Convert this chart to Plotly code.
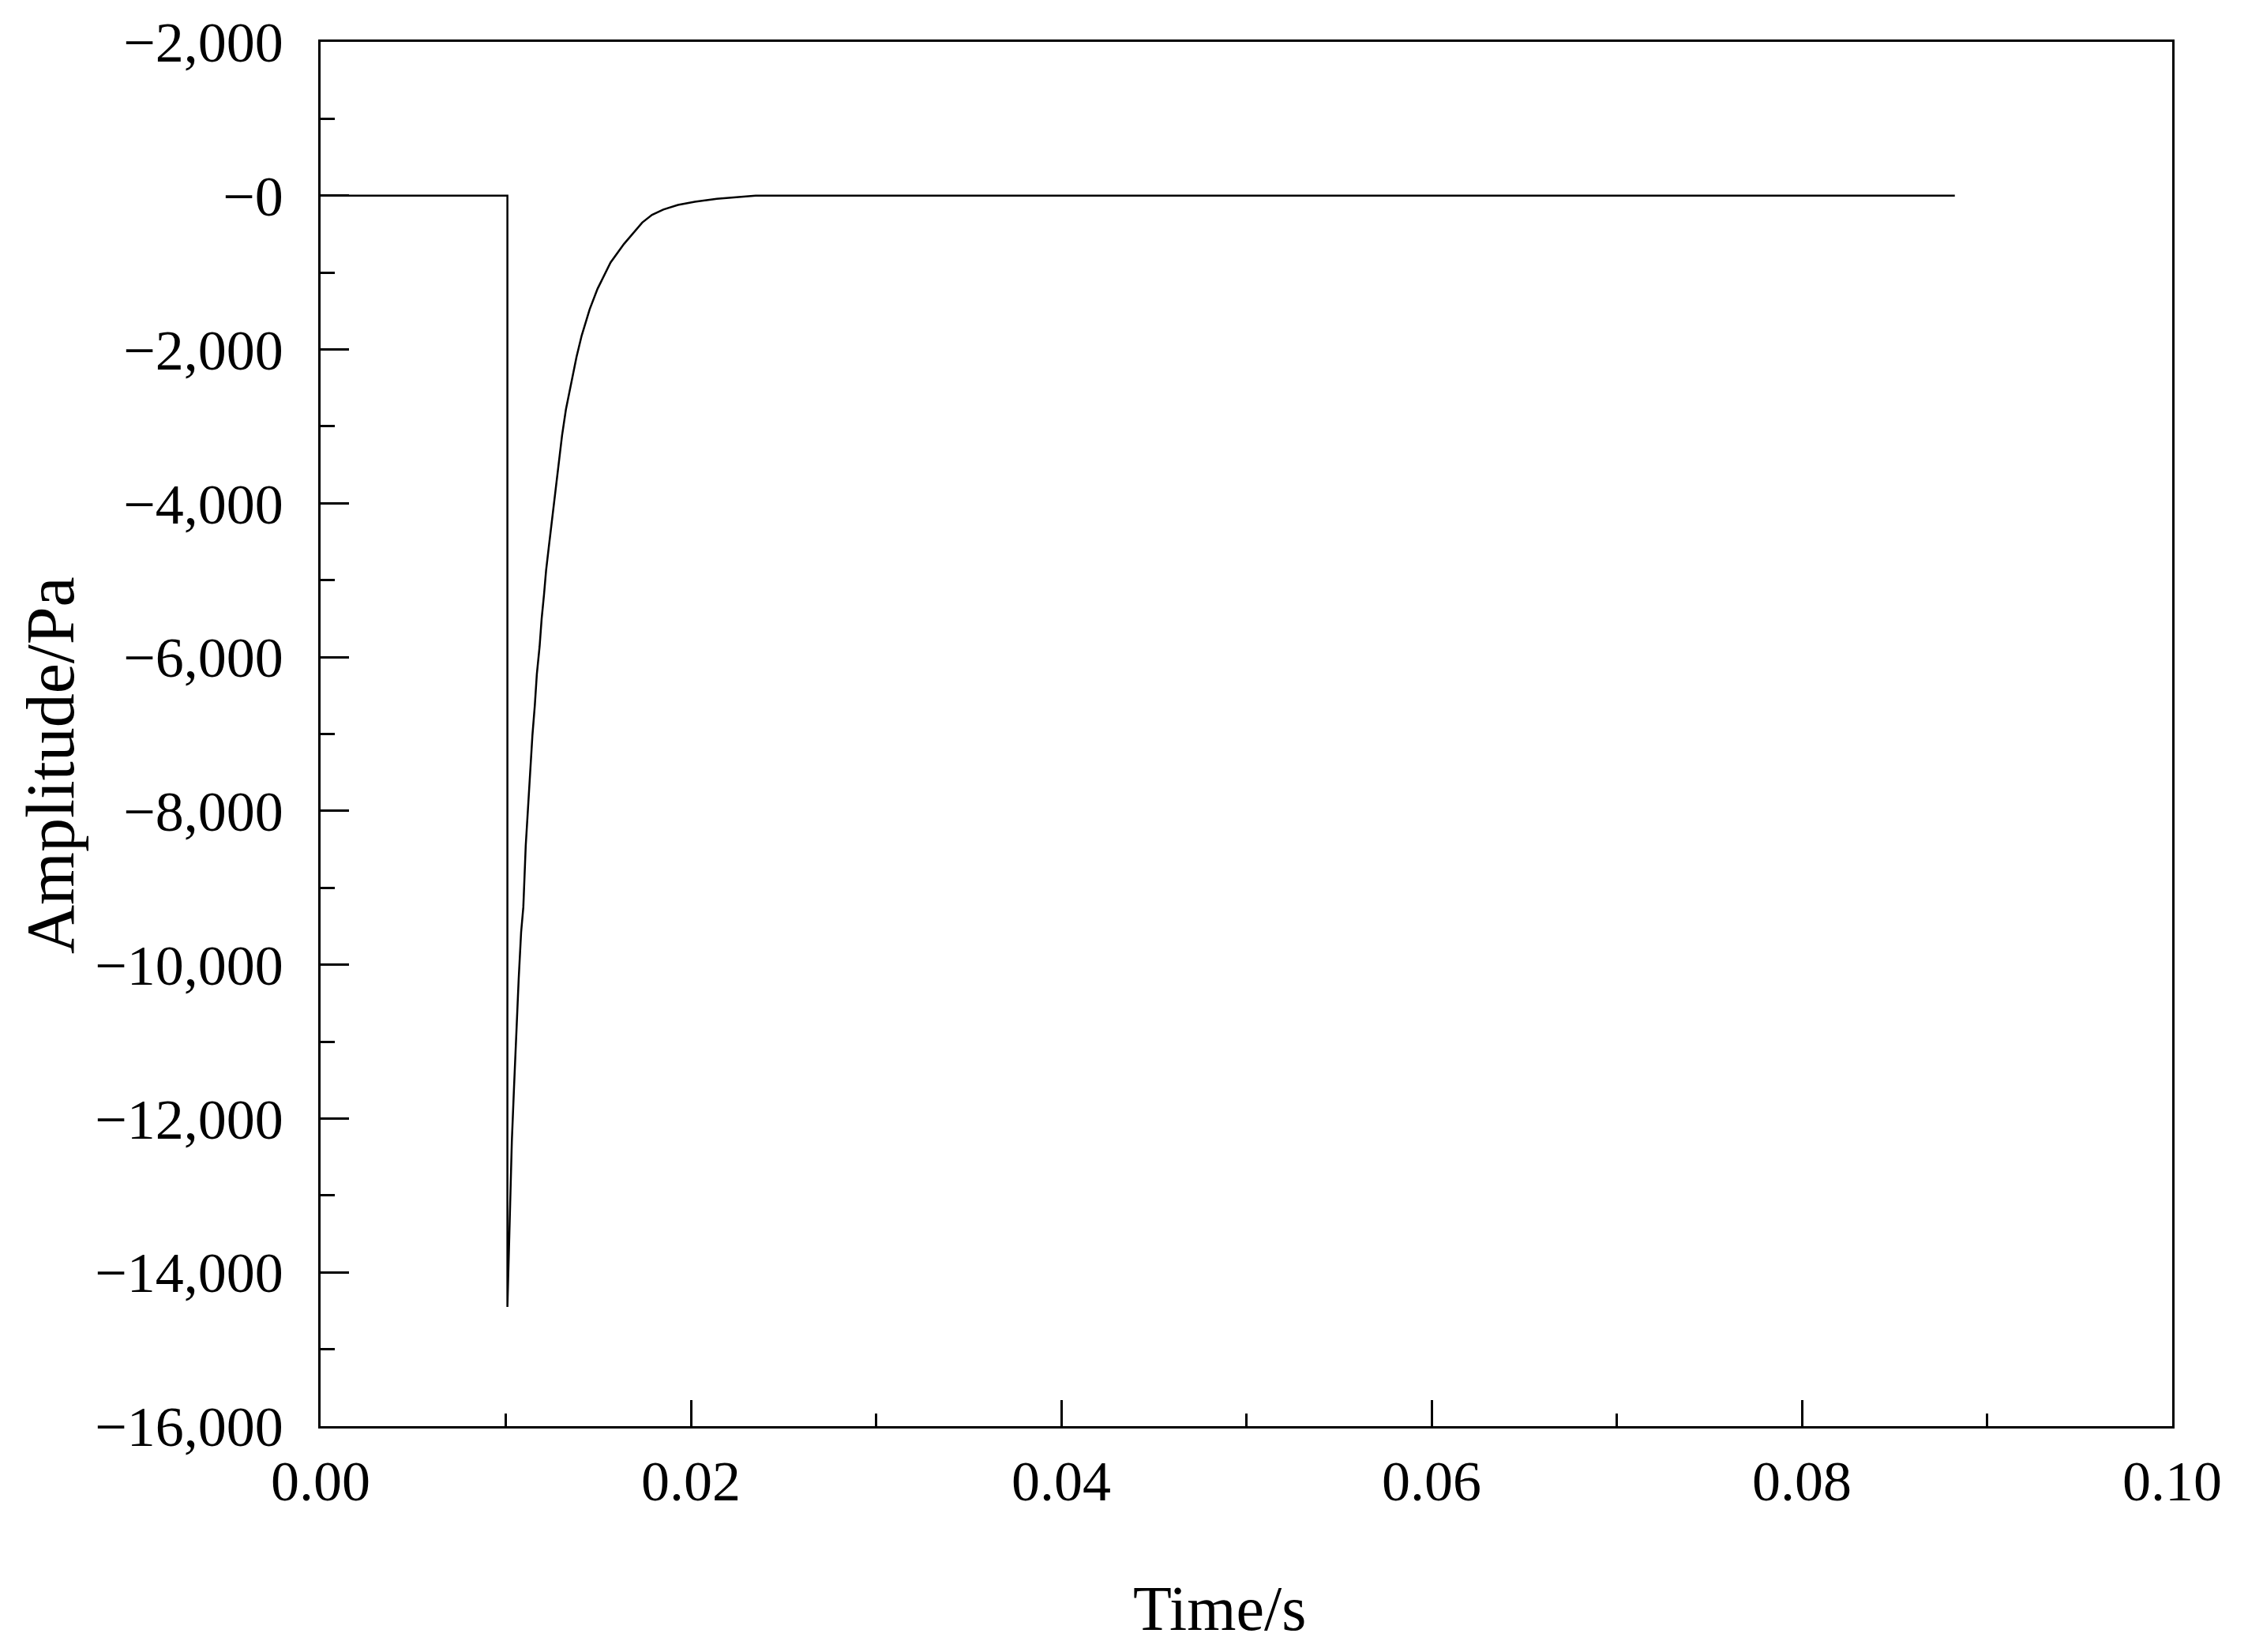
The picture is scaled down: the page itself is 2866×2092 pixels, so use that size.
import plotly.graph_objects as go

# Time (s) and amplitude (Pa)
time_s = [0.0, 0.01009, 0.01009, 0.01020, 0.01033, 0.01045, 0.01058, 0.01070,
          0.01083, 0.01095, 0.01108, 0.01120, 0.01133, 0.01144, 0.01157,
          0.01168, 0.01183, 0.01194, 0.01207, 0.01218, 0.01232, 0.01247,
          0.01258, 0.01282, 0.01304, 0.01325, 0.01353, 0.01382, 0.01410,
          0.01453, 0.01496, 0.01566, 0.01638, 0.01690, 0.01737, 0.01790,
          0.01851, 0.01930, 0.02021, 0.02140, 0.02277, 0.02350, 0.08826]
amplitude_pa = [0, 0, -14450, -13500, -12290, -11580, -10800, -10180,
                -9580, -9250, -8450, -7970, -7500, -7020, -6630,
                -6220, -5860, -5500, -5180, -4870, -4580, -4270,
                -4010, -3570, -3120, -2780, -2440, -2100, -1820,
                -1480, -1210, -870, -630, -480, -350, -250,
                -180, -120, -80, -40, -10, 0, 0]

x_tickvals = [0.0, 0.02, 0.04, 0.06, 0.08, 0.10]
x_ticktext = ["0.00", "0.02", "0.04", "0.06", "0.08", "0.10"]
y_tickvals = [-16000, -14000, -12000, -10000, -8000, -6000, -4000, -2000, 0, 2000]
y_ticktext = ["\u221216,000", "\u221214,000", "\u221212,000", "\u221210,000",
              "\u22128,000", "\u22126,000", "\u22124,000", "\u22122,000",
              "\u22120", "\u22122,000"]

FONT = "Liberation Serif, Times New Roman, serif"

fig = go.Figure()
fig.add_trace(go.Scatter(x=time_s, y=amplitude_pa, mode="lines",
                         line=dict(color="black", width=2.5),
                         showlegend=False, hoverinfo="skip"))

# page body has an 8px margin; figure sized so the plot area lands where the reference has it
fig.update_layout(
    width=2850, height=2076,
    margin=dict(l=398, r=107, t=45, b=278),
    paper_bgcolor="white", plot_bgcolor="white",
    font=dict(family=FONT, size=72, color="black"),
    showlegend=False,
)

fig.update_xaxes(
    range=[0, 0.1], tickmode="array", tickvals=x_tickvals, ticktext=x_ticktext,
    ticks="inside", ticklen=33, tickwidth=2.5, tickcolor="black",
    minor=dict(ticks="inside", ticklen=16, tickwidth=2.5, tickcolor="black",
               tickmode="linear", tick0=0, dtick=0.01),
    showline=True, linecolor="black", linewidth=2.5, mirror=True,
    showgrid=False, zeroline=False, automargin=False,
    tickfont=dict(family=FONT, size=72, color="black"),
    ticklabelstandoff=5,
)
fig.update_yaxes(
    range=[-16000, 2000], tickmode="array", tickvals=y_tickvals, ticktext=y_ticktext,
    ticks="inside", ticklen=36, tickwidth=2.5, tickcolor="black",
    minor=dict(ticks="inside", ticklen=18, tickwidth=2.5, tickcolor="black",
               tickmode="linear", tick0=0, dtick=1000),
    showline=True, linecolor="black", linewidth=2.5, mirror=True,
    showgrid=False, zeroline=False, automargin=False,
    tickfont=dict(family=FONT, size=72, color="black"),
    ticklabelstandoff=30,
)

fig.add_annotation(text="Time/s", xref="paper", yref="paper",
                   x=0.4857, y=-0.1318, xanchor="center", yanchor="middle",
                   showarrow=False, font=dict(family=FONT, size=80, color="black"))
fig.add_annotation(text="Amplitude/Pa", xref="paper", yref="paper",
                   x=-0.1458, y=0.4775, xanchor="center", yanchor="middle",
                   textangle=-90, showarrow=False,
                   font=dict(family=FONT, size=86, color="black"))

fig.write_html("out.html")
